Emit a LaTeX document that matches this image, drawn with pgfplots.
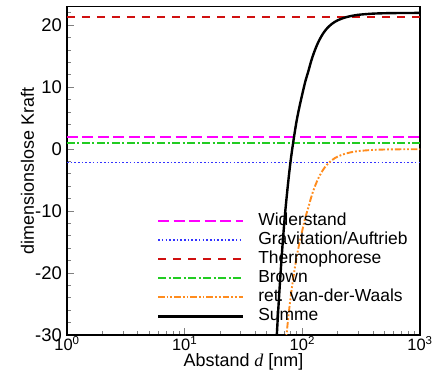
\documentclass[border=0pt]{standalone}
\usepackage{pgfplots}
\pgfplotsset{compat=1.18}
\usepackage{fontspec}
\setmainfont{Liberation Sans}
\newfontfamily\serifit{Liberation Serif}

\definecolor{widcol}{HTML}{FF00FF}
\definecolor{gravcol}{HTML}{3232FF}
\definecolor{thermcol}{HTML}{D01010}
\definecolor{browncol}{HTML}{22CC22}
\definecolor{vdwcol}{HTML}{FF8C1E}

\begin{document}
\begin{tikzpicture}
\begin{axis}[
  scale only axis,
  width=353bp, height=328.3bp,
  xmode=log,
  xmin=1, xmax=1000,
  ymin=-30, ymax=23,
  axis line style={line width=1.2bp},
  xtick={1,10,100,1000},
  xticklabels={10\textsuperscript{0},10\textsuperscript{1},10\textsuperscript{2},10\textsuperscript{3}},
  minor xtick={2,3,4,5,6,7,8,9,20,30,40,50,60,70,80,90,200,300,400,500,600,700,800,900},
  ytick={-30,-20,-10,0,10,20},
  minor ytick={-28,-26,-24,-22,-18,-16,-14,-12,-8,-6,-4,-2,2,4,6,8,12,14,16,18,22},
  xtick pos=bottom, ytick pos=left,
  tick align=inside,
  major tick length=7bp, minor tick length=4bp,
  tick style={line width=1bp},
  /pgf/number format/assume math mode=true,
  yticklabel style={font=\fontsize{18.5}{20}\selectfont, inner sep=0pt, anchor=east, xshift=-5bp},
  xticklabel style={font=\fontsize{16.5}{18}\selectfont, inner sep=0pt, anchor=north, yshift=-1bp},
  xlabel={Abstand {\serifit\itshape d} [nm]},
  ylabel={dimensionslose Kraft},
  xlabel style={at={(axis description cs:0.5,-0.0945)}, anchor=base, inner sep=0pt, font=\fontsize{18}{20}\selectfont},
  ylabel style={at={(axis description cs:-0.0935,0.5)}, anchor=base, inner sep=0pt, font=\fontsize{18}{20}\selectfont},
  legend cell align=left,
  legend style={draw=none, fill=none, inner sep=0pt, outer sep=0pt,
    at={(rel axis cs:0.2547,0.372)}, anchor=north west,
    font=\fontsize{17.5}{19}\selectfont, row sep=2bp,
    nodes={inner sep=0pt, text height=13bp, text depth=4bp},
    /tikz/every odd column/.append style={column sep=14bp}},
  legend image code/.code={\draw[#1] (0bp,0bp) -- (85bp,0bp);},
]
% drag force
\addplot[draw=widcol, line width=1.8bp, dash pattern=on 11bp off 4.5bp] coordinates {(1,1.9) (1000,1.9)};
\addlegendentry{Widerstand}
% gravity and buoyancy
\addplot[draw=gravcol, line width=1.8bp, dash pattern=on 1.6bp off 2.1bp] coordinates {(1,-2.15) (1000,-2.15)};
\addlegendentry{Gravitation/Auftrieb}
% thermophoresis
\addplot[draw=thermcol, line width=1.8bp, dash pattern=on 8bp off 7bp] coordinates {(1,21.3) (1000,21.3)};
\addlegendentry{Thermophorese}
% Brownian force
\addplot[draw=browncol, line width=1.8bp, dash pattern=on 8bp off 2.5bp on 2bp off 2.5bp] coordinates {(1,0.95) (1000,0.95)};
\addlegendentry{Brown}
% retarded van der Waals attraction
\addplot[draw=vdwcol, line width=1.9bp, smooth, dash pattern=on 6.5bp off 2bp on 1.8bp off 2bp on 1.8bp off 2bp] coordinates {
  (66.8,-39.3) (70.8,-33.1) (75.0,-28.2) (79.4,-24.0) (84.1,-20.6) (89.1,-17.6)
  (94.4,-15.2) (100,-13.1) (105.9,-11.1) (112.2,-9.49) (118.9,-7.77) (125.9,-6.36)
  (133.4,-5.16) (141.3,-4.18) (149.6,-3.37) (158.5,-2.72) (167.9,-2.20) (177.8,-1.79)
  (188.4,-1.46) (199.5,-1.20) (223.9,-0.82) (251.2,-0.56) (281.8,-0.38) (316.2,-0.26)
  (398.1,-0.12) (501.2,-0.055) (631,-0.025) (1000,-0.005)};
\addlegendentry{ret. van-der-Waals}
% total force
\addplot[draw=black, smooth, line width=2.4bp] coordinates {
  (56.2,-42.7) (60.3,-31.0) (63.1,-24.5) (66.8,-17.3) (70.8,-11.1) (75.0,-6.2)
  (79.4,-2.0) (84.1,1.4) (89.1,4.4) (94.4,6.8) (100,8.9) (105.9,10.9) (112.2,12.51)
  (118.9,14.23) (125.9,15.64) (133.4,16.84) (141.3,17.82) (149.6,18.63) (158.5,19.28)
  (167.9,19.80) (177.8,20.21) (188.4,20.54) (199.5,20.80) (223.9,21.18) (251.2,21.44)
  (281.8,21.62) (316.2,21.74) (398.1,21.88) (501.2,21.945) (631,21.975) (1000,21.995)};
\addlegendentry{Summe}
\coordinate (bl) at (rel axis cs:0,0);
\coordinate (tr) at (rel axis cs:1,1);
\end{axis}
\pgfresetboundingbox
\path[use as bounding box] ([shift={(-67bp,-41bp)}]bl) rectangle ([shift={(18bp,6.7bp)}]tr);
\end{tikzpicture}
\end{document}
